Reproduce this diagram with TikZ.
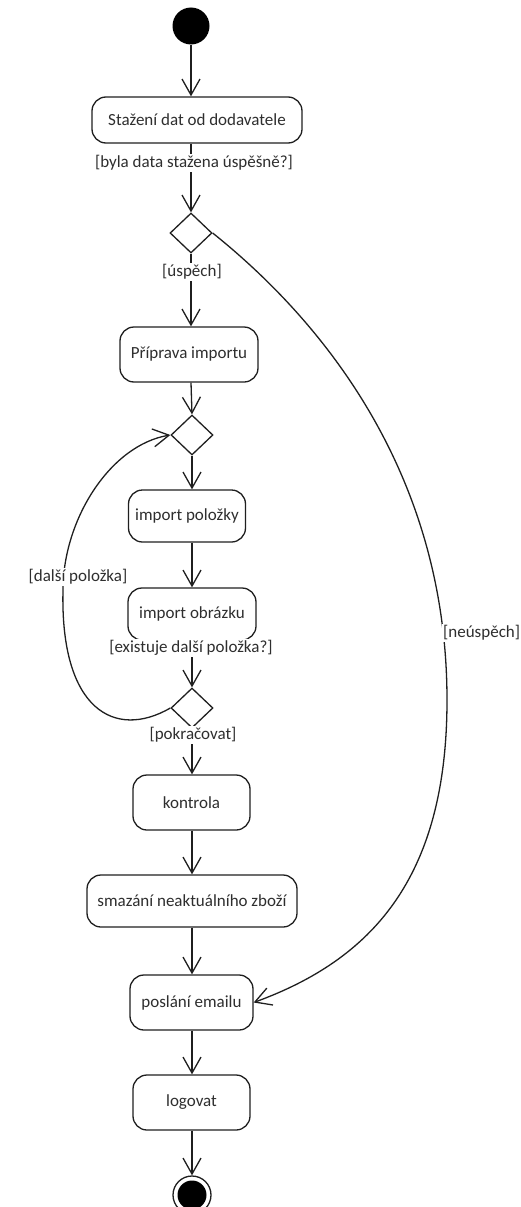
\documentclass[tikz,border=0pt]{standalone}
\usepackage{fontspec}
\setmainfont{Carlito}
\usetikzlibrary{shapes.geometric,arrows.meta}
\begin{document}
\begin{tikzpicture}[x=1pt,y=-1pt,
  ink/.style={draw=black!88, line width=1.3pt},
  action/.style={ink, rounded corners=14pt, fill=white, inner sep=0pt,
    font=\fontsize{17}{20}\selectfont, text=black!82},
  decision/.style={ink, diamond, fill=white, minimum width=42pt, minimum height=40pt, inner sep=0pt},
  guard/.style={fill=white, inner sep=1pt, font=\fontsize{17}{20}\selectfont, text=black!82},
  flow/.style={ink, -{Straight Barb[length=16pt,width=18pt]}},
]
\useasboundingbox (0,0) rectangle (520,1207);

% activities and control nodes
\node[circle, fill=black, minimum size=37pt, inner sep=0pt] (start) at (191,26) {};
\node[action, minimum width=210pt, minimum height=46pt] (s1) at (197,120) {Stažení dat od dodavatele};
\node[decision] (d1) at (191,233) {};
\node[action, minimum width=138pt, minimum height=55pt] (s2) at (189,354.5) {Příprava importu};
\node[decision] (d2) at (192,435) {};
\node[action, minimum width=117pt, minimum height=52pt] (s3) at (187,516) {import položky};
\node[action, minimum width=128pt, minimum height=52pt] (s4) at (192,614) {import obrázku};
\node[decision] (d3) at (192,708) {};
\node[action, minimum width=117pt, minimum height=55pt] (s5) at (191.5,802.5) {kontrola};
\node[action, minimum width=210pt, minimum height=52pt] (s6) at (192,901) {smazání neaktuálního zboží};
\node[action, minimum width=123pt, minimum height=55pt] (s7) at (191.5,1002.5) {poslání emailu};
\node[action, minimum width=117pt, minimum height=55pt] (s8) at (191.5,1102.5) {logovat};
\node[circle, ink, minimum size=38pt, inner sep=0pt] (end) at (192,1195) {};
\node[circle, fill=black, minimum size=29pt, inner sep=0pt] (endcore) at (end.center) {};

% main flow
\draw[flow] (start) -- (start |- s1.north);
\draw[flow] (start |- s1.south) -- (d1.north);
\draw[flow] (d1.south) -- (d1 |- s2.north);
\draw[flow] (d1 |- s2.south) -- (d2.north);
\draw[flow] (d2.south) -- (d2 |- s3.north);
\draw[flow] (d2 |- s3.south) -- (d2 |- s4.north);
\draw[flow] (d3 |- s4.south) -- (d3.north);
\draw[flow] (d3.south) -- (d3 |- s5.north);
\draw[flow] (d3 |- s5.south) -- (d3 |- s6.north);
\draw[flow] (d3 |- s6.south) -- (d3 |- s7.north);
\draw[flow] (d3 |- s7.south) -- (d3 |- s8.north);
\draw[flow] (d3 |- s8.south) -- (end.north);

% loop back for the next item
\coordinate (loopL) at (63,590);
\draw[flow] (d3.west) .. controls (115,740) and (60,710) .. (loopL)
  .. controls (63,520) and (110,445) .. (d2.west);

% failure branch
\coordinate (failR) at (447,700);
\draw[flow] (d1.east) .. controls (330,327) and (447,480) .. (failR)
  .. controls (447,880) and (370,960) .. (s7.east);

% guards
\node[guard] (g1) at (194,163) {[byla data stažena úspěšně?]};
\node[guard] (g2) at (192,272) {[úspěch]};
\node[guard] (g3) at (78,577) {[další položka]};
\node[guard] (g4) at (191,648) {[existuje další položka?]};
\node[guard] (g5) at (193,735) {[pokračovat]};
\node[guard, anchor=west] (g6) at (442,633) {[neúspěch]};
\end{tikzpicture}
\end{document}
